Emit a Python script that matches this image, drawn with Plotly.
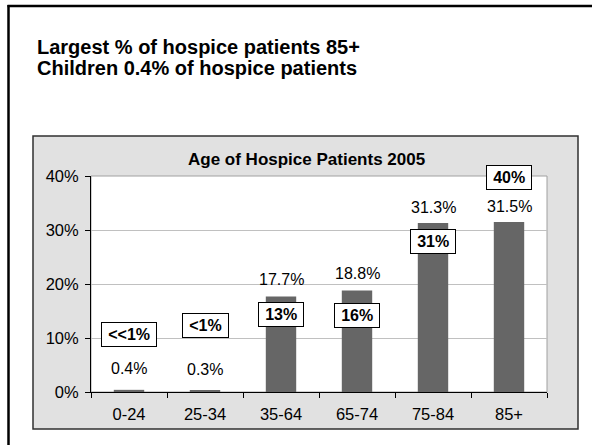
import plotly.graph_objects as go

# ---- data ----
CATEGORIES = ["0-24", "25-34", "35-64", "65-74", "75-84", "85+"]
PCT_2005 = [0.4, 0.3, 17.7, 18.8, 31.3, 31.5]
BOX_LABELS = ["<<1%", "<1%", "13%", "16%", "31%", "40%"]
Y_TICKS = [0, 10, 20, 30, 40]
TITLE_LINES = ["Largest % of hospice patients 85+", "Children 0.4% of hospice patients"]
CHART_TITLE = "Age of Hospice Patients 2005"

# ---- placement (layout only) ----
BOX_Y = [10.6, 12.4, 14.3, 14.1, 27.8, 39.8]     # vertical centre of boxed labels (axis units)
LABEL_LIFT = [21, 21, 17, 16.5, 15, 15]           # px lift of value labels above bar tops

W, H = 592, 445
FONT = "Liberation Sans, Arial, sans-serif"


def px(x):
    return x / W


def py(y):
    return 1 - y / H


fig = go.Figure(
    go.Bar(
        x=CATEGORIES,
        y=PCT_2005,
        width=0.4,
        marker=dict(color="#666666", line=dict(width=0)),
        hoverinfo="skip",
    )
)

shapes = [
    # grey chart box
    dict(type="rect", xref="paper", yref="paper",
         x0=px(33), x1=px(578), y0=py(429), y1=py(136),
         fillcolor="#e1e1e1", line=dict(color="#303030", width=1.5), layer="below"),
    # white plot area with grey border
    dict(type="rect", xref="paper", yref="paper",
         x0=px(91), x1=px(547), y0=py(392), y1=py(176),
         fillcolor="white", line=dict(color="#a0a0a0", width=1), layer="below"),
    # outer slide frame: top and left edges (the rest runs off the page)
    dict(type="line", xref="paper", yref="paper",
         x0=px(7.5), x1=1.0, y0=py(6), y1=py(6),
         line=dict(color="black", width=2.5), layer="above"),
    dict(type="line", xref="paper", yref="paper",
         x0=px(8.5), x1=px(8.5), y0=py(5), y1=0.0,
         line=dict(color="black", width=2.5), layer="above"),
]

annotations = []
# slide title, two tight lines
for line, yc in zip(TITLE_LINES, [47, 68]):
    annotations.append(dict(
        text=line, xref="paper", yref="paper", x=px(35), y=py(yc),
        xanchor="left", yanchor="middle", showarrow=False,
        font=dict(family=FONT, size=20, color="black", weight="bold"),
    ))
# chart title
annotations.append(dict(
    text=CHART_TITLE, xref="paper", yref="paper", x=px(306), y=py(159),
    xanchor="center", yanchor="middle", showarrow=False,
    font=dict(family=FONT, size=17, color="black", weight="bold"),
))
# value labels
for cat, v, lift in zip(CATEGORIES, PCT_2005, LABEL_LIFT):
    annotations.append(dict(
        text=f"{v:.1f}%", x=cat, y=v, xref="x", yref="y",
        xanchor="center", yanchor="middle", yshift=lift, showarrow=False,
        font=dict(family=FONT, size=16, color="black"),
    ))
# boxed labels
for cat, lab, yb in zip(CATEGORIES, BOX_LABELS, BOX_Y):
    annotations.append(dict(
        text="\u2009" + lab.replace("<", "&lt;") + "\u2009", x=cat, y=yb, xref="x", yref="y",
        xanchor="center", yanchor="middle", showarrow=False,
        bgcolor="white", bordercolor="black", borderwidth=1, borderpad=3,
        font=dict(family=FONT, size=16, color="black", weight="bold"),
    ))

fig.update_layout(
    width=W, height=H,
    margin=dict(l=0, r=0, t=0, b=0),
    paper_bgcolor="white", plot_bgcolor="white",
    showlegend=False,
    shapes=shapes,
    annotations=annotations,
    font=dict(family=FONT, color="black"),
    xaxis=dict(
        domain=[px(91), px(547)],
        type="category",
        showline=True, linecolor="black", linewidth=1,
        ticks="outside", tickson="boundaries", ticklen=5, tickcolor="black",
        tickfont=dict(family=FONT, size=16.5, color="black"),
        ticklabelstandoff=7,
        showgrid=False, fixedrange=True, automargin=False,
    ),
    yaxis=dict(
        domain=[py(392), py(176)],
        range=[0, 40],
        tickvals=Y_TICKS,
        ticktext=[f"{t}%" for t in Y_TICKS],
        showline=True, linecolor="black", linewidth=1,
        ticks="outside", ticklen=5, tickcolor="black",
        tickfont=dict(family=FONT, size=16.5, color="black"),
        ticklabelstandoff=3,
        showgrid=True, gridcolor="#c0c0c0", gridwidth=1,
        zeroline=False, fixedrange=True, automargin=False,
    ),
)

fig.write_html(
    "out.html",
    config={"displayModeBar": False},
    post_script="document.body.style.margin='0';document.body.style.overflow='hidden';",
)
